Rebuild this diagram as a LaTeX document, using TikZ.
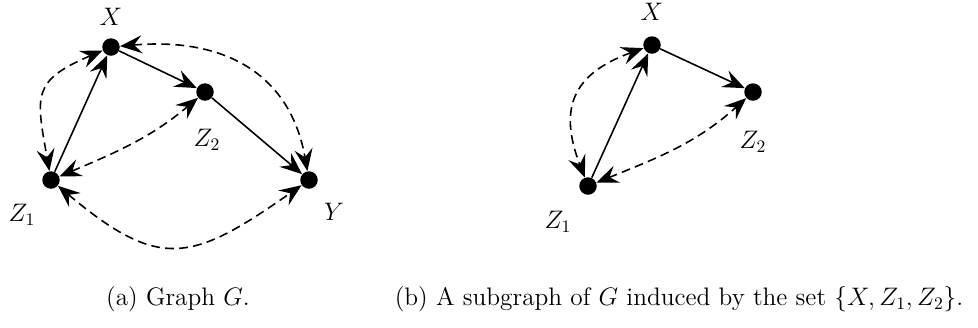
\documentclass[tikz,border=0pt]{standalone}
\usetikzlibrary{arrows.meta}
\begin{document}
\begin{tikzpicture}[
    vertex/.style={circle, fill=black, inner sep=0pt, minimum size=0.35cm},
    directed/.style={-{Stealth[length=4.4mm, width=3.6mm, inset=1.6mm]}, line width=0.9pt},
    bidirected/.style={{Stealth[length=4.4mm, width=3.6mm, inset=1.6mm]}-{Stealth[length=4.4mm, width=3.6mm, inset=1.6mm]}, line width=0.9pt, dash pattern=on 5pt off 3pt}
]
    \useasboundingbox (0,0) rectangle (19.56,6.54);
    % Graph G
    \node[vertex] (X) at (2.22,5.60) {};
    \node[vertex] (Z2) at (4.10,4.70) {};
    \node[vertex] (Z1) at (1.02,2.94) {};
    \node[vertex] (Y) at (6.18,2.94) {};
    \node (labX) at (2.22,6.20) {\Large $X$};
    \node (labZ2) at (4.14,3.74) {\Large $Z_2$};
    \node (labZ1) at (0.44,2.24) {\Large $Z_1$};
    \node (labY) at (6.68,2.30) {\Large $Y$};
    % Directed edges
    \draw[directed] (X) -- (Z2);
    \draw[directed] (Z2) -- (Y);
    \draw[directed] (Z1) -- (X);
    % Bidirected edges
    \draw[bidirected] (X) to[out=203, in=100, looseness=1.5] (Z1);
    \draw[bidirected] (Z1) to[out=23, in=220] (Z2);
    \draw[bidirected] (X) to[out=5, in=100, looseness=1.15] (Y);
    \draw[bidirected] (Z1) to[out=-40, in=-145, looseness=1.4] (Y);
    % Subgraph
    \node[vertex] (Xb) at (13.04,5.64) {};
    \node[vertex] (Z2b) at (15.06,4.70) {};
    \node[vertex] (Z1b) at (11.76,2.82) {};
    \node (labXb) at (13.04,6.30) {\Large $X$};
    \node (labZ2b) at (15.06,3.70) {\Large $Z_2$};
    \node (labZ1b) at (11.16,2.10) {\Large $Z_1$};
    \draw[directed] (Xb) -- (Z2b);
    \draw[directed] (Z1b) -- (Xb);
    \draw[bidirected] (Xb) to[out=200, in=111, looseness=1.35] (Z1b);
    \draw[bidirected] (Z1b) to[out=22, in=222] (Z2b);
    % Captions
    \node (capa) at (3.56,0.56) {\Large (a) Graph $G$.};
    \node (capb) at (13.58,0.56) {\Large (b) A subgraph of $G$ induced by the set $\{X, Z_1, Z_2\}$.};
\end{tikzpicture}
\end{document}
